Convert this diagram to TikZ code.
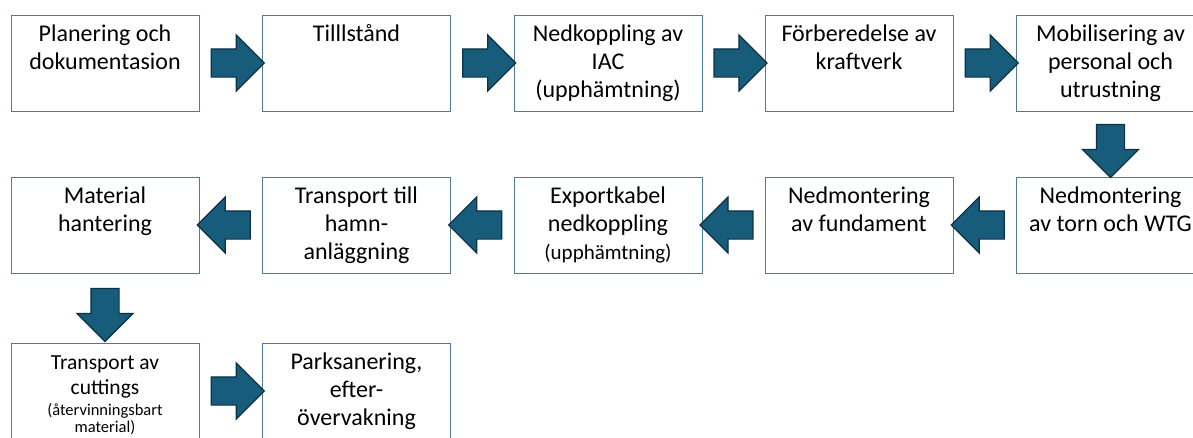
\documentclass[tikz,border=0pt]{standalone}
\usepackage{fontspec}
\setmainfont{Carlito}
\usetikzlibrary{shapes.arrows,calc}

\definecolor{boxline}{RGB}{84,122,146}
\definecolor{arrowfill}{RGB}{24,92,124}
\definecolor{arrowline}{RGB}{12,50,70}

\newcommand{\boxtxt}[1]{\parbox[c][96pt][t]{186pt}{\centering\vspace*{7pt}\strut#1}}

\tikzset{
  stage/.style={draw=boxline, line width=1pt, fill=white, rectangle,
    minimum width=188pt, minimum height=96pt, inner sep=0pt,
    font=\fontsize{24}{28}\selectfont},
  flow/.style={single arrow, draw=arrowline, fill=arrowfill, line width=1.2pt,
    minimum height=53pt, single arrow head extend=14pt, inner sep=13.5pt}
}

\begin{document}
\begin{tikzpicture}[x=1pt,y=-1pt]
\useasboundingbox (0,0) rectangle (1193,437);

% first row, left to right
\node[stage] (b1) at (105,63) {\boxtxt{Planering och\\dokumentasion}};
\node[stage] (b2) at (356.5,63) {\boxtxt{Tilllstånd}};
\node[stage] (b3) at (608,63) {\boxtxt{Nedkoppling av\\IAC\\(upphämtning)}};
\node[stage] (b4) at (859,63) {\boxtxt{Förberedelse av\\kraftverk}};
\node[stage] (b5) at (1110.5,63) {\boxtxt{Mobilisering av\\personal och\\utrustning}};

% second row, right to left
\node[stage] (b6) at (1110.5,225) {\boxtxt{Nedmontering\\av torn och WTG}};
\node[stage] (b7) at (859,225) {\boxtxt{Nedmontering\\av fundament}};
\node[stage] (b8) at (608,225) {\boxtxt{Exportkabel\\nedkoppling\\{\fontsize{21}{26}\selectfont(upphämtning)}}};
\node[stage] (b9) at (356.5,225) {\boxtxt{Transport till\\hamn-\\anläggning}};
\node[stage] (b10) at (105,225) {\boxtxt{Material\\hantering}};

% third row
\node[stage] (b11) at (105,391) {\boxtxt{\fontsize{21.5}{25}\selectfont Transport av\\cuttings\par
  \vspace{4pt}\fontsize{16.5}{17}\selectfont(återvinningsbart\\material)}};
\node[stage] (b12) at (356.5,391) {\boxtxt{Parksanering,\\efter-\\övervakning}};

% arrows
\node[flow] (a1) at ($(b1.east)!0.5!(b2.west)$) {};
\node[flow] (a2) at ($(b2.east)!0.5!(b3.west)$) {};
\node[flow] (a3) at ($(b3.east)!0.5!(b4.west)$) {};
\node[flow] (a4) at ($(b4.east)!0.5!(b5.west)$) {};
\node[flow, shape border rotate=270] (a5) at ($(b5.south)!0.5!(b6.north)$) {};
\node[flow, shape border rotate=180] (a6) at ($(b6.west)!0.5!(b7.east)$) {};
\node[flow, shape border rotate=180] (a7) at ($(b7.west)!0.5!(b8.east)$) {};
\node[flow, shape border rotate=180] (a8) at ($(b8.west)!0.5!(b9.east)$) {};
\node[flow, shape border rotate=180] (a9) at ($(b9.west)!0.5!(b10.east)$) {};
\node[flow, shape border rotate=270] (a10) at ($(b10.south)!0.5!(b11.north)$) {};
\node[flow] (a11) at ($(b11.east)!0.5!(b12.west)$) {};

\end{tikzpicture}
\end{document}
